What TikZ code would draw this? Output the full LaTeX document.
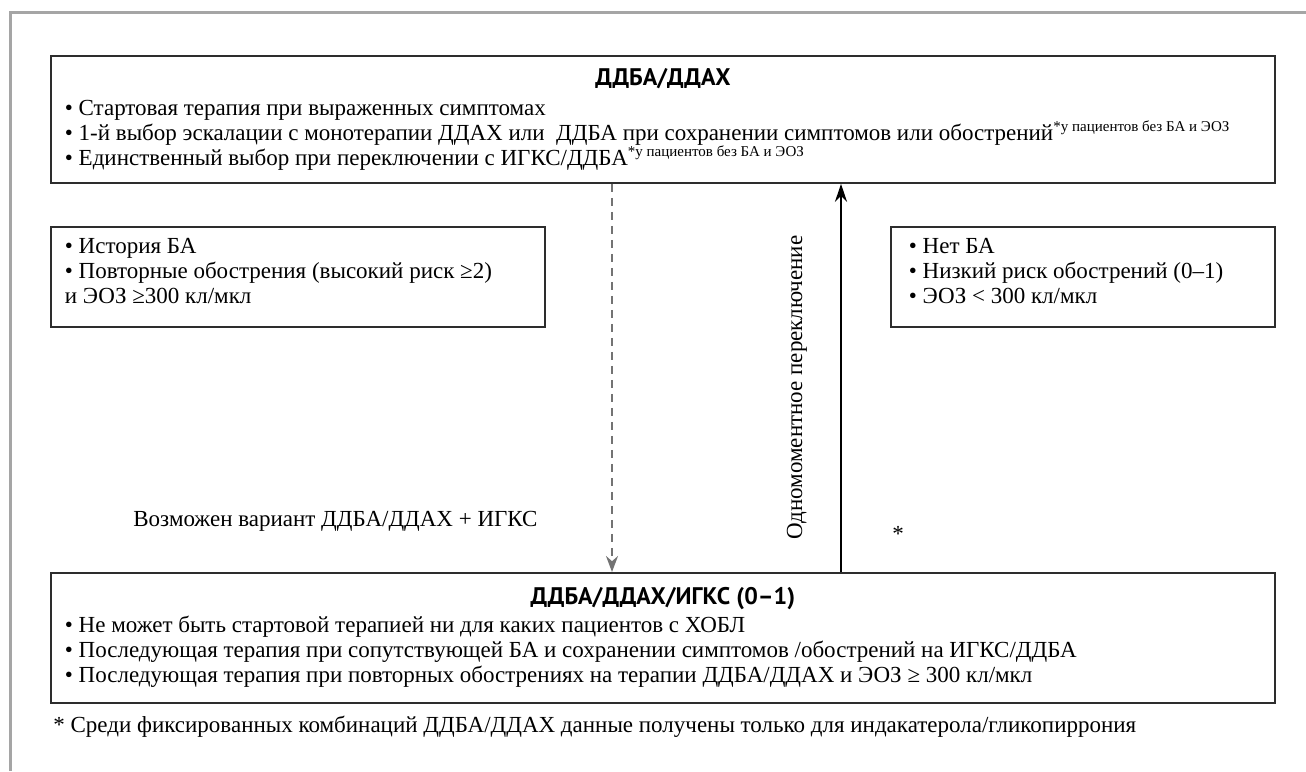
\documentclass[tikz,border=0pt]{standalone}
\usepackage{fontspec}
\setmainfont{Liberation Serif}
\newfontfamily\headfont{PT Sans}
\usetikzlibrary{arrows.meta}
\definecolor{framegray}{RGB}{165, 165, 165}
\definecolor{boxline}{RGB}{45, 45, 45}
\definecolor{dashgray}{RGB}{115, 115, 115}
\newcommand{\pnote}{\textsuperscript{\fontsize{7.5}{7.5}\selectfont *у пациентов без БА и ЭОЗ}}
\newcommand{\boxhead}[1]{\makebox[\linewidth]{\fontsize{12}{12.5}\selectfont\headfont\bfseries #1}}
\newcommand{\lowpad}{\rule[-6pt]{0pt}{0pt}}

\begin{document}
\begin{tikzpicture}[
        x=0.5pt, y=-0.5pt,
        every node/.style={font=\fontsize{11.5}{12.5}\selectfont, inner sep=0pt},
        widebox/.style={rectangle, draw=boxline, line width=0.9pt, anchor=north west, text width=598pt, inner xsep=7pt, inner ysep=6pt, align=flush left},
        sidebox/.style={rectangle, draw=boxline, line width=0.9pt, anchor=north west, minimum height=50pt, inner ysep=4pt, align=flush left},
        switchflow/.style={-{Stealth[length=9pt, width=6pt]}, line width=1.2pt, color=black},
        optflow/.style={-{Stealth[length=8pt, width=6pt]}, line width=1pt, color=dashgray, dash pattern=on 4pt off 3pt},
        note/.style={anchor=west}
    ]
    \useasboundingbox (0,0) rectangle (1306,771);

    % Frame
    \draw[framegray, line width=1.5pt] (10,771) -- (10,12) -- (1306,12);

    % Therapy boxes
    \node[widebox, minimum height=63.5pt] (dual) at (50,55) {\boxhead{ДДБА/ДДАХ}\\[2.5pt]
        • Стартовая терапия при выраженных симптомах\\
        • 1-й выбор эскалации с монотерапии ДДАХ или\ \ ДДБА при сохранении симптомов или обострений\pnote\\
        • Единственный выбор при переключении с ИГКС/ДДБА\pnote};
    \node[widebox, minimum height=65pt] (triple) at (50,572) {\boxhead{ДДБА/ДДАХ/ИГКС (0–1)}\\[1.5pt]
        • Не может быть стартовой терапией ни для каких пациентов с ХОБЛ\\
        • Последующая терапия при сопутствующей БА и сохранении симптомов /обострений на ИГКС/ДДБА\\
        • Последующая терапия при повторных обострениях на терапии ДДБА/ДДАХ и ЭОЗ ≥ 300 кл/мкл};

    % Patient profiles
    \node[sidebox, text width=233pt, inner xsep=7pt] (asthma) at (50,226) {• История БА\\
        • Повторные обострения (высокий риск ≥2)\\
        и ЭОЗ ≥300 кл/мкл\lowpad};
    \node[sidebox, text width=174pt, inner xsep=9pt] (noasthma) at (890,226) {• Нет БА\\
        • Низкий риск обострений (0–1)\\
        • ЭОЗ < 300 кл/мкл\lowpad};

    % Switching arrows
    \coordinate (optx) at (612,0);
    \coordinate (switchx) at (841,0);
    \draw[optflow] (dual.south -| optx) -- (triple.north -| optx);
    \draw[switchflow] (triple.north -| switchx) -- (dual.south -| switchx);
    \node[rotate=90, anchor=west] (switchlabel) at (797,540) {Одномоментное переключение};
    \node[note] (optlabel) at (133,521) {Возможен вариант ДДБА/ДДАХ + ИГКС};
    \node (star) at (898,534) {*};

    % Footnote
    \node[note] (footnote) at (53,727) {* Среди фиксированных комбинаций ДДБА/ДДАХ данные получены только для индакатерола/гликопиррония};

\end{tikzpicture}
\end{document}
